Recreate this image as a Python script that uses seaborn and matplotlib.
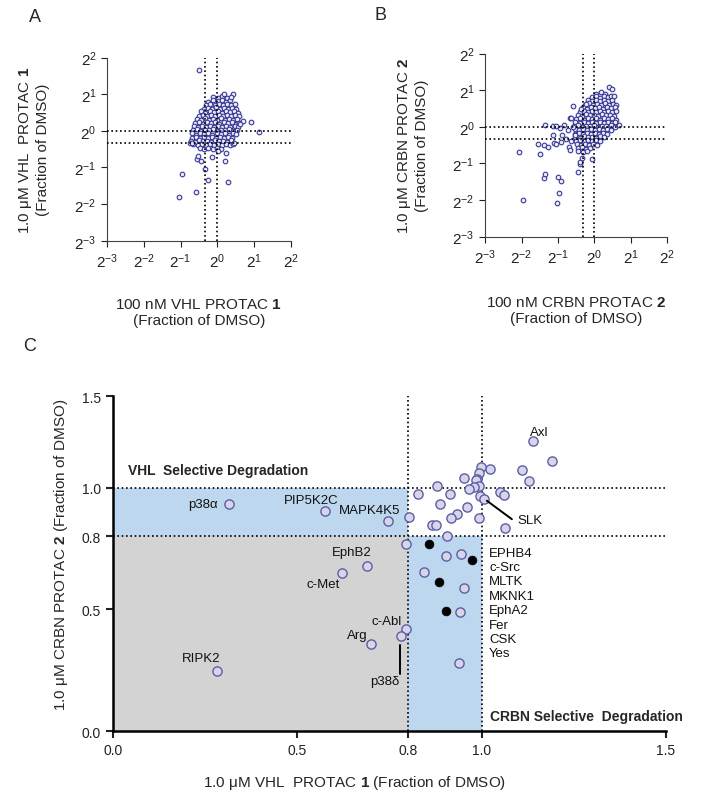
import numpy as np
import seaborn as sns
import matplotlib.pyplot as plt

# ---- panel A : log2 of fraction of DMSO (x = 100 nM, y = 1.0 uM)
a_core = [
    (-0.12, 0.93), (0.02, 0.90), (0.14, 0.95), (0.27, 0.91),
    (-0.24, 0.80), (-0.11, 0.84), (0.01, 0.81), (0.12, 0.83), (0.24, 0.80), (0.36, 0.84),
    (-0.31, 0.71), (-0.19, 0.74), (-0.07, 0.70), (0.05, 0.73), (0.16, 0.71), (0.27, 0.74), (0.38, 0.70), (0.49, 0.72),
    (-0.37, 0.61), (-0.25, 0.63), (-0.14, 0.60), (-0.03, 0.64), (0.08, 0.61), (0.19, 0.63), (0.30, 0.60), (0.41, 0.63), (0.52, 0.61),
    (-0.44, 0.53), (-0.33, 0.50), (-0.21, 0.54), (-0.10, 0.51), (0.01, 0.53), (0.12, 0.50), (0.23, 0.54), (0.34, 0.51), (0.45, 0.53), (0.56, 0.50),
    (-0.50, 0.41), (-0.39, 0.44), (-0.28, 0.40), (-0.17, 0.43), (-0.06, 0.41), (0.05, 0.44), (0.16, 0.40), (0.27, 0.43), (0.38, 0.41), (0.49, 0.44), (0.59, 0.40),
    (-0.55, 0.33), (-0.44, 0.30), (-0.33, 0.34), (-0.22, 0.31), (-0.11, 0.33), (0.00, 0.30), (0.11, 0.34), (0.22, 0.31), (0.33, 0.33), (0.44, 0.30), (0.55, 0.33),
    (-0.60, 0.21), (-0.49, 0.24), (-0.38, 0.20), (-0.27, 0.23), (-0.16, 0.21), (-0.05, 0.24), (0.06, 0.20), (0.17, 0.23), (0.28, 0.21), (0.39, 0.24), (0.50, 0.20), (0.60, 0.22),
    (-0.63, 0.13), (-0.52, 0.10), (-0.41, 0.14), (-0.30, 0.11), (-0.19, 0.13), (-0.08, 0.10), (0.03, 0.14), (0.14, 0.11), (0.25, 0.13), (0.36, 0.10), (0.47, 0.14), (0.57, 0.11),
    (-0.66, 0.01), (-0.55, 0.04), (-0.44, 0.00), (-0.33, 0.03), (-0.22, 0.01), (-0.11, 0.04), (0.00, 0.00), (0.11, 0.03), (0.22, 0.01), (0.33, 0.04), (0.44, 0.00), (0.55, 0.03),
    (-0.68, -0.07), (-0.57, -0.10), (-0.46, -0.06), (-0.35, -0.09), (-0.24, -0.07), (-0.13, -0.10), (-0.02, -0.06), (0.09, -0.09), (0.20, -0.07), (0.31, -0.10), (0.42, -0.06), (0.52, -0.09),
    (-0.69, -0.19), (-0.58, -0.16), (-0.47, -0.20), (-0.36, -0.17), (-0.25, -0.19), (-0.14, -0.16), (-0.03, -0.20), (0.08, -0.17), (0.19, -0.19), (0.30, -0.16), (0.41, -0.20),
    (-0.72, -0.27), (-0.61, -0.30), (-0.50, -0.26), (-0.39, -0.29), (-0.28, -0.27), (-0.17, -0.30), (-0.06, -0.26), (0.05, -0.29), (0.16, -0.27), (0.27, -0.30), (0.38, -0.26),
    (-0.66, -0.37), (-0.53, -0.40), (-0.42, -0.36), (-0.31, -0.39), (-0.20, -0.37), (-0.09, -0.40), (0.02, -0.36), (0.13, -0.39), (0.24, -0.37), (0.36, -0.40), (0.44, -0.37),
    (-0.48, -0.47), (-0.36, -0.50), (-0.24, -0.46), (-0.12, -0.49), (0.00, -0.47), (0.10, -0.50),
]
a_outliers = [
    (-0.50, 1.65), (0.44, 1.01), (0.38, 0.92), (0.18, 1.00), (0.93, 0.23), (1.13, -0.03), (0.70, 0.26), (0.62, 0.18),
    (-0.96, -1.17), (-1.03, -1.82), (-0.59, -1.66), (-0.24, -1.34), (0.30, -1.41), (-0.33, -1.03),
    (-0.55, -0.78), (-0.45, -0.83), (-0.52, -0.69), (-0.15, -0.72), (0.20, -0.81), (0.24, -0.61), (0.03, -0.55),
    (0.45, -0.33), (-0.75, -0.33), (-0.70, -0.32),
]

# ---- panel B
b_core = [
    (0.05, 0.91), (0.18, 0.94), (0.30, 0.90),
    (-0.08, 0.81), (0.04, 0.84), (0.15, 0.80), (0.26, 0.83), (0.37, 0.81), (0.46, 0.84),
    (-0.18, 0.73), (-0.07, 0.70), (0.04, 0.74), (0.15, 0.71), (0.26, 0.73), (0.37, 0.70), (0.48, 0.74),
    (-0.26, 0.61), (-0.15, 0.64), (-0.04, 0.60), (0.07, 0.63), (0.18, 0.61), (0.29, 0.64), (0.40, 0.60), (0.51, 0.63), (0.60, 0.61),
    (-0.32, 0.53), (-0.21, 0.50), (-0.10, 0.54), (0.01, 0.51), (0.12, 0.53), (0.23, 0.50), (0.34, 0.54), (0.45, 0.51), (0.56, 0.53),
    (-0.40, 0.41), (-0.29, 0.44), (-0.18, 0.40), (-0.07, 0.43), (0.04, 0.41), (0.15, 0.44), (0.26, 0.40), (0.37, 0.43), (0.48, 0.41), (0.58, 0.44),
    (-0.45, 0.33), (-0.34, 0.30), (-0.23, 0.34), (-0.12, 0.31), (-0.01, 0.33), (0.10, 0.30), (0.21, 0.34), (0.32, 0.31), (0.43, 0.33), (0.54, 0.30),
    (-0.50, 0.21), (-0.39, 0.24), (-0.28, 0.20), (-0.17, 0.23), (-0.06, 0.21), (0.05, 0.24), (0.16, 0.20), (0.27, 0.23), (0.38, 0.21), (0.49, 0.24), (0.58, 0.20),
    (-0.52, 0.13), (-0.41, 0.10), (-0.30, 0.14), (-0.19, 0.11), (-0.08, 0.13), (0.03, 0.10), (0.14, 0.14), (0.25, 0.11), (0.36, 0.13), (0.47, 0.10), (0.57, 0.14),
    (-0.55, 0.01), (-0.44, 0.04), (-0.33, 0.00), (-0.22, 0.03), (-0.11, 0.01), (0.00, 0.04), (0.11, 0.00), (0.22, 0.03), (0.33, 0.01), (0.44, 0.04), (0.55, 0.00),
    (-0.54, -0.07), (-0.43, -0.10), (-0.32, -0.06), (-0.21, -0.09), (-0.10, -0.07), (0.01, -0.10), (0.12, -0.06), (0.23, -0.09), (0.34, -0.07), (0.45, -0.10),
    (-0.53, -0.19), (-0.42, -0.16), (-0.31, -0.20), (-0.20, -0.17), (-0.09, -0.19), (0.02, -0.16), (0.13, -0.20), (0.24, -0.17), (0.35, -0.19),
    (-0.52, -0.27), (-0.41, -0.30), (-0.30, -0.26), (-0.19, -0.29), (-0.08, -0.27), (0.03, -0.30), (0.14, -0.26), (0.25, -0.29),
    (-0.50, -0.39), (-0.39, -0.36), (-0.28, -0.40), (-0.17, -0.37), (-0.06, -0.39), (0.05, -0.36), (0.16, -0.40),
    (-0.48, -0.47), (-0.37, -0.50), (-0.26, -0.46), (-0.15, -0.49), (-0.04, -0.47), (0.08, -0.50),
    (-0.46, -0.59), (-0.35, -0.56), (-0.24, -0.60), (-0.12, -0.57),
    (-0.44, -0.67), (-0.32, -0.70), (-0.20, -0.66),
]
b_outliers = [
    (0.40, 1.08), (0.48, 1.02), (0.54, 0.83), (0.67, 0.06), (-0.58, 0.57), (-0.37, 0.49), (-0.24, 0.62),
    (-0.68, 0.24), (-0.64, 0.24), (-2.07, -0.70), (-1.96, -1.99), (-1.48, -0.75), (-1.38, -0.50),
    (-1.28, -0.56), (-1.56, -0.48), (-1.39, -1.40), (-1.35, -1.30), (-1.04, -2.07), (-0.97, -1.80),
    (-0.93, -1.48), (-1.00, -1.36), (-1.36, 0.06), (-1.14, 0.03), (-1.05, 0.03), (-0.83, 0.06),
    (-0.95, -0.02), (-1.15, -0.23), (-1.10, -0.43), (-1.06, -0.48), (-0.93, -0.41), (-0.79, -0.32),
    (-0.88, -0.21), (-0.72, -0.10), (-0.70, -0.55), (-0.64, -0.40), (-0.60, 0.00), (-0.54, -0.23),
    (-0.45, -1.23), (-0.39, -1.02), (-0.40, -0.95), (-0.34, -0.84), (-0.06, -0.87), (-0.66, -0.62),
]

# ---- panel C : fraction of DMSO (x = VHL PROTAC 1, y = CRBN PROTAC 2)
c_open_x = [0.315, 0.575, 0.745, 0.690, 0.622, 0.699, 0.283, 0.794, 0.781,
            1.139, 1.192, 1.110, 1.129, 1.023, 0.998, 0.993, 0.987, 0.951, 0.984,
            0.993, 0.980, 0.965, 0.879, 0.827, 0.915, 1.051, 1.061, 0.995, 1.007,
            0.886, 0.961, 0.934, 0.918, 0.992, 0.804, 0.865, 0.875, 1.063, 0.906,
            0.794, 0.902, 0.945, 0.843, 0.952, 0.941, 0.938]
c_open_y = [0.934, 0.903, 0.864, 0.680, 0.648, 0.358, 0.246, 0.420, 0.389,
            1.257, 1.144, 1.095, 1.035, 1.102, 1.111, 1.080, 1.048, 1.055, 1.044,
            1.011, 1.002, 0.995, 1.009, 0.974, 0.975, 0.984, 0.971, 0.966, 0.955,
            0.934, 0.921, 0.891, 0.874, 0.877, 0.878, 0.848, 0.848, 0.833, 0.800,
            0.768, 0.720, 0.726, 0.654, 0.590, 0.491, 0.281]
c_filled_x = [0.856, 0.973, 0.883, 0.902]
c_filled_y = [0.771, 0.702, 0.611, 0.495]
c_ticks = [0.0, 0.5, 0.8, 1.0, 1.5]
crbn_list = ["EPHB4", "c-Src", "MLTK", "MKNK1", "EphA2", "Fer", "CSK", "Yes"]

sns.set_style("ticks")
plt.rcParams['font.family'] = ['Liberation Sans', 'DejaVu Sans']
plt.rcParams.update({'mathtext.fontset': 'custom', 'mathtext.rm': 'Liberation Sans',
                     'mathtext.bf': 'Liberation Sans:bold', 'mathtext.it': 'Liberation Sans:italic',
                     'mathtext.sf': 'Liberation Sans'})

fig = plt.figure(figsize=(7.04, 8.03), dpi=100)
dots = (0, (1, 1.6))


def log_panel(rect, core, extra, xlabel, ylabel, xlab_y, ylab_x):
    ax = fig.add_axes(rect)
    pts = np.array(core + extra)
    sns.scatterplot(x=2.0 ** pts[:, 0], y=2.0 ** pts[:, 1], ax=ax, s=11,
                    color="#ececf6", edgecolor="#3a3a98", linewidth=0.8)
    ax.set_xscale('log', base=2)
    ax.set_yscale('log', base=2)
    ax.set_xlim(2 ** -3, 2 ** 2)
    ax.set_ylim(2 ** -3, 2 ** 2)
    for v in (0.8, 1.0):
        ax.axvline(v, color='k', lw=1.2, ls=dots, zorder=3)
        ax.axhline(v, color='k', lw=1.2, ls=dots, zorder=3)
    ticks = [2.0 ** k for k in range(-3, 3)]
    labs = [f'$2^{{{k}}}$' for k in range(-3, 3)]
    ax.set_xticks(ticks)
    ax.set_xticklabels(labs)
    ax.set_yticks(ticks)
    ax.set_yticklabels(labs)
    ax.minorticks_off()
    ax.tick_params(direction='out', length=4, width=0.8, labelsize=11, colors='#222222')
    for side in ('top', 'right'):
        ax.spines[side].set_visible(False)
    for side in ('left', 'bottom'):
        ax.spines[side].set_linewidth(0.8)
        ax.spines[side].set_color('#444444')
    ax.set_xlabel(xlabel, fontsize=11, linespacing=1.15)
    ax.set_ylabel(ylabel, fontsize=11, linespacing=1.15)
    ax.xaxis.set_label_coords(0.5, xlab_y)
    ax.yaxis.set_label_coords(ylab_x, 0.5)
    return ax


log_panel([0.152, 0.699, 0.261, 0.228], a_core, a_outliers,
          "100 nM VHL PROTAC $\\mathbf{1}$\n(Fraction of DMSO)",
          "1.0 \u03bcM VHL  PROTAC $\\mathbf{1}$\n(Fraction of DMSO)", -0.31, -0.31)
log_panel([0.689, 0.704, 0.259, 0.228], b_core, b_outliers,
          "100 nM CRBN PROTAC $\\mathbf{2}$\n(Fraction of DMSO)",
          "1.0 \u03bcM CRBN PROTAC $\\mathbf{2}$\n(Fraction of DMSO)", -0.32, -0.31)

# ---- panel C, the part above 1.0 is compressed as in the original axis
def fwd(y):
    y = np.asarray(y, dtype=float)
    return np.where(y <= 1.0, y, 1.0 + (y - 1.0) * 0.755)


def inv(u):
    u = np.asarray(u, dtype=float)
    return np.where(u <= 1.0, u, 1.0 + (u - 1.0) / 0.755)


ax = fig.add_axes([0.1605, 0.0884, 0.7855, 0.4172])
ax.set_yscale('function', functions=(fwd, inv))
ax.set_xlim(0, 1.5)
ax.set_ylim(0, 1.5)
ax.fill_between([0, 0.8], 0, 0.8, color='#d3d3d3', lw=0, zorder=0)
ax.fill_between([0, 0.8], 0.8, 1.0, color='#bdd7ee', lw=0, zorder=0)
ax.fill_between([0.8, 1.0], 0, 0.8, color='#bdd7ee', lw=0, zorder=0)
for v in (0.8, 1.0):
    ax.axvline(v, color='k', lw=1.2, ls=dots, zorder=1)
    ax.axhline(v, color='k', lw=1.2, ls=dots, zorder=1)

sns.scatterplot(x=c_open_x, y=c_open_y, ax=ax, s=44, color='#d6d6e6',
                edgecolor='#5d5daa', linewidth=1.0, zorder=4)
sns.scatterplot(x=c_filled_x, y=c_filled_y, ax=ax, s=40, color='black',
                edgecolor='black', linewidth=0.5, zorder=4)

lab_kw = dict(fontsize=9.5, color='#111111', va='center', zorder=5)
ax.text(1.131, 1.306, "Axl", ha='left', **lab_kw)
ax.text(1.098, 0.868, "SLK", ha='left', **lab_kw)
ax.plot([1.014, 1.082], [0.947, 0.871], color='k', lw=1.4, zorder=5)
ax.text(0.245, 0.934, "p38\u03b1", ha='center', **lab_kw)
ax.text(0.537, 0.951, "PIP5K2C", ha='center', **lab_kw)
ax.text(0.697, 0.909, "MAPK4K5", ha='center', **lab_kw)
ax.text(0.648, 0.737, "EphB2", ha='center', **lab_kw)
ax.text(0.571, 0.604, "c-Met", ha='center', **lab_kw)
ax.text(0.742, 0.453, "c-Abl", ha='center', **lab_kw)
ax.text(0.663, 0.394, "Arg", ha='center', **lab_kw)
ax.text(0.238, 0.299, "RIPK2", ha='center', **lab_kw)
ax.text(0.738, 0.206, "p38\u03b4", ha='center', **lab_kw)
ax.plot([0.779, 0.779], [0.353, 0.236], color='k', lw=1.4, zorder=5)
for i, name in enumerate(crbn_list):
    ax.text(1.02, 0.734 - i * 0.0593, name, ha='left', **lab_kw)

ax.text(0.042, 1.097, "VHL  Selective Degradation", fontsize=10, fontweight='bold',
        ha='left', va='center', zorder=5)
ax.text(1.022, 0.062, "CRBN Selective  Degradation", fontsize=10, fontweight='bold',
        ha='left', va='center', zorder=5)

ax.set_xticks(c_ticks)
ax.set_yticks(c_ticks)
ax.set_xticklabels([f'{t:.1f}' for t in c_ticks])
ax.set_yticklabels([f'{t:.1f}' for t in c_ticks])
ax.minorticks_off()
ax.tick_params(direction='out', length=5, width=1.5, labelsize=10, colors='#222222')
for side in ('top', 'right'):
    ax.spines[side].set_visible(False)
for side in ('left', 'bottom'):
    ax.spines[side].set_linewidth(1.8)
    ax.spines[side].set_color('black')
ax.set_xlabel("1.0 \u03bcM VHL  PROTAC $\\mathbf{1}$ (Fraction of DMSO)", fontsize=11)
ax.set_ylabel("1.0 \u03bcM CRBN PROTAC $\\mathbf{2}$ (Fraction of DMSO)", fontsize=11)
ax.xaxis.set_label_coords(0.4376, -0.125)
ax.yaxis.set_label_coords(-0.078, 0.528)

# panel letters
fig.text(35 / 704, 1 - 17 / 803, "A", fontsize=13, ha='center', va='center')
fig.text(381 / 704, 1 - 15 / 803, "B", fontsize=13, ha='center', va='center')
fig.text(30 / 704, 1 - 347 / 803, "C", fontsize=13, ha='center', va='center')

fig.savefig("out.png", dpi=100)
